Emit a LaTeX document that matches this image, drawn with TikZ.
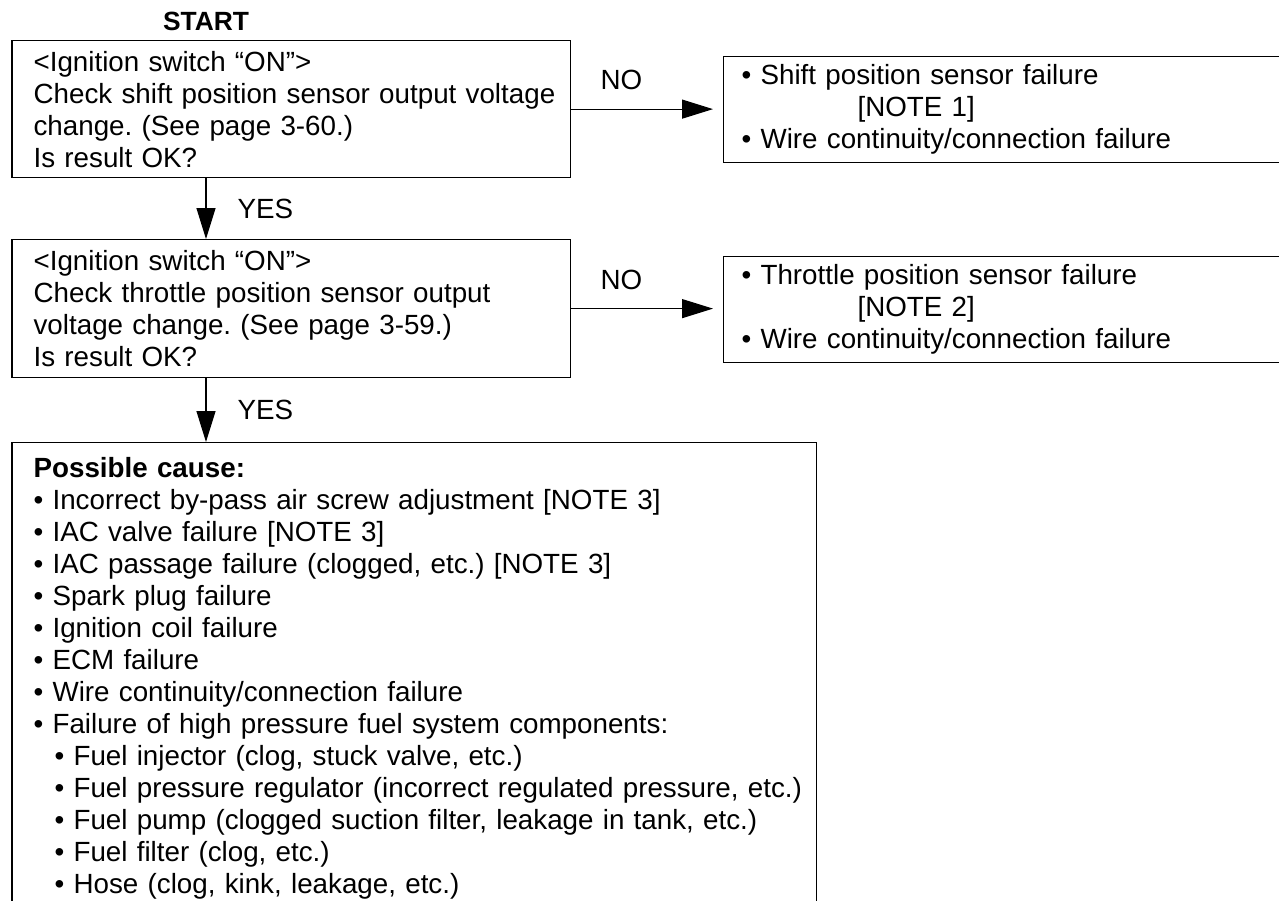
\documentclass[tikz,border=0pt]{standalone}
\usepackage{fontspec}
\setmainfont{Liberation Sans}
\usetikzlibrary{arrows.meta,positioning}
\newcommand{\fnttxt}{\fontsize{15.8}{18.2}\selectfont\frenchspacing}

\begin{document}
\begin{tikzpicture}[
    chkbox/.style 2 args={draw,line width=0.7pt,anchor=north west,inner xsep=0pt,
      inner ysep=0pt,text width=#1,align=left,font=\fnttxt,
      execute at begin node={\leftskip=#2}},
    arr/.style={-{Triangle[length=0.62cm,width=0.38cm]},line width=0.7pt},
    lbl/.style={inner sep=0pt,font=\fnttxt}]
  \useasboundingbox (0,0) rectangle (25.58,-18);
  \clip (0,0) rectangle (25.58,-18);

  % questions
  \node[inner sep=0pt,font=\fontsize{15}{17}\selectfont\bfseries] (start) at (4.12,-0.42) {START};
  \node[chkbox={11.17cm}{0.43cm},minimum height=2.74cm] (chk1) at (0.23,-0.80)
    {<Ignition switch “ON”>\\ Check shift position sensor output voltage\\
     change. (See page 3-60.)\\ Is result OK?};
  \node[chkbox={11.17cm}{0.43cm},minimum height=2.76cm] (chk2) at (0.23,-4.78)
    {<Ignition switch “ON”>\\ Check throttle position sensor output\\
     voltage change. (See page 3-59.)\\ Is result OK?};

  % results
  \node[chkbox={12cm}{0.36cm},minimum height=2.12cm] (res1) at (14.46,-1.12)
    {• Shift position sensor failure\\ \hspace*{2.32cm}[NOTE 1]\\
     • Wire continuity/connection failure};
  \node[chkbox={12cm}{0.36cm},minimum height=2.12cm] (res2) at (14.46,-5.12)
    {• Throttle position sensor failure\\ \hspace*{2.32cm}[NOTE 2]\\
     • Wire continuity/connection failure};
  \node[chkbox={16.09cm}{0.43cm},inner ysep=0.3cm] (cause) at (0.23,-8.84)
    {\textbf{Possible cause:}\\
     • Incorrect by-pass air screw adjustment [NOTE 3]\\
     • IAC valve failure [NOTE 3]\\
     • IAC passage failure (clogged, etc.) [NOTE 3]\\
     • Spark plug failure\\
     • Ignition coil failure\\
     • ECM failure\\
     • Wire continuity/connection failure\\
     • Failure of high pressure fuel system components:\\
     \hspace*{0.42cm}• Fuel injector (clog, stuck valve, etc.)\\
     \hspace*{0.42cm}• Fuel pressure regulator (incorrect regulated pressure, etc.)\\
     \hspace*{0.42cm}• Fuel pump (clogged suction filter, leakage in tank, etc.)\\
     \hspace*{0.42cm}• Fuel filter (clog, etc.)\\
     \hspace*{0.42cm}• Hose (clog, kink, leakage, etc.)};

  % arrows
  \draw[arr] ([xshift=3.89cm]chk1.south west) --
    node[lbl,right=0.62cm]{YES} ([xshift=3.89cm]chk1.south west |- chk2.north);
  \draw[arr] ([xshift=3.89cm]chk2.south west) --
    node[lbl,right=0.62cm]{YES} ([xshift=3.89cm]chk2.south west |- cause.north);
  \draw[arr,shorten >=0.2cm] (chk1.east) --
    node[lbl,pos=0.33,above=0.37cm]{NO} (chk1.east -| res1.west);
  \draw[arr,shorten >=0.2cm] (chk2.east) --
    node[lbl,pos=0.33,above=0.37cm]{NO} (chk2.east -| res2.west);
\end{tikzpicture}
\end{document}
